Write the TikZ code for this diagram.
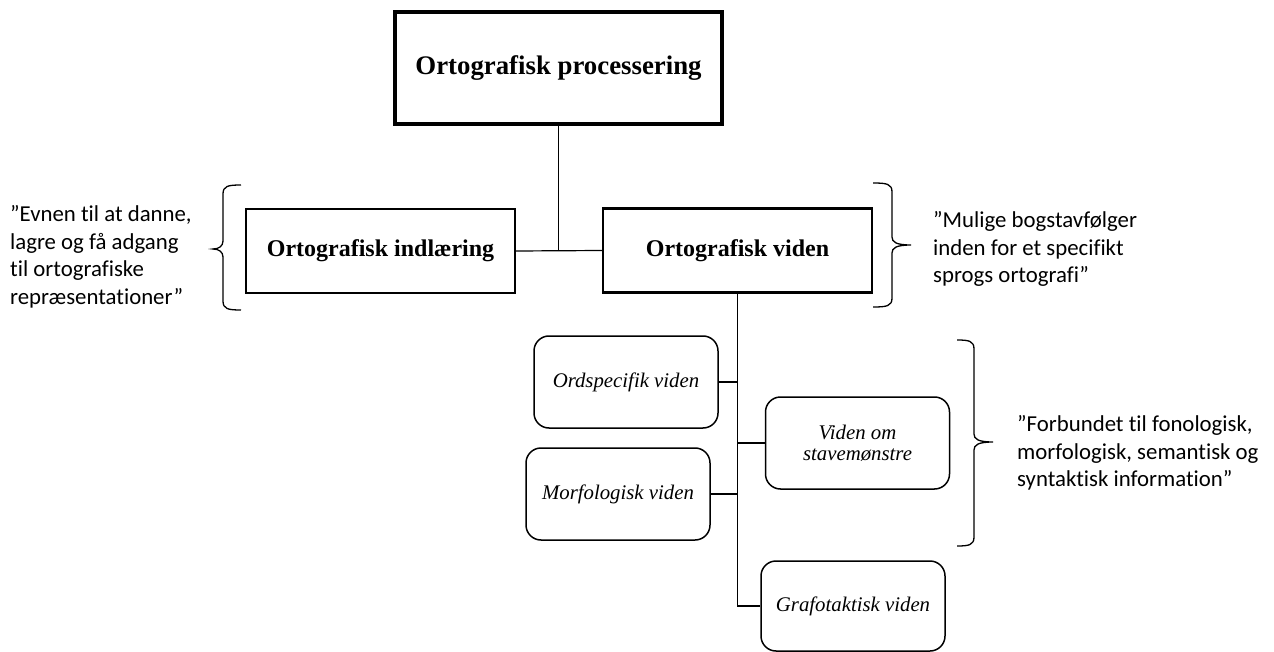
\documentclass[tikz,border=0pt]{standalone}
\usepackage{fontspec}
\setmainfont{Liberation Serif}
\newfontfamily\quotefont[Ligatures=NoCommon]{Carlito}
\begin{document}
\begin{tikzpicture}[x=1pt,y=-1pt,
  topbox/.style={draw, line width=3.2pt, minimum width=327pt, minimum height=112pt, inner sep=0pt, font=\bfseries\fontsize{26.8}{30}\selectfont},
  mainbox/.style={draw, line width=2.2pt, minimum width=269pt, minimum height=84pt, inner sep=0pt, font=\bfseries\fontsize{24}{28}\selectfont},
  subbox/.style={draw, line width=1.5pt, rounded corners=15pt, minimum width=184pt, minimum height=92pt, inner sep=0pt, align=center, font=\itshape\fontsize{20.8}{21.5}\selectfont},
  quotetext/.style={anchor=west, align=left, inner sep=0pt, font=\quotefont\fontsize{22.8}{27.5}\selectfont},
  link/.style={line width=1.2pt},
  bracepath/.style={line width=1.3pt},
]
\useasboundingbox (0,0) rectangle (1274,652);

\node[topbox] (top) at (558.5,68) {Ortografisk processering};
\node[mainbox] (indl) at (380.5,251) {Ortografisk indlæring};
\node[mainbox] (viden) at (737.5,250.5) {Ortografisk viden};

\node[subbox] (ord) at (626,382) {Ordspecifik viden};
\node[subbox] (morf) at (618,494) {Morfologisk viden};
\node[subbox] (stave) at (857.5,443) {Viden om\\stavemønstre};
\node[subbox, minimum height=90pt] (graf) at (853,606) {Grafotaktisk viden};

% connectors
\coordinate (j1) at (top.south |- indl.east);
\draw[link] (top.south) -- (j1);
\draw[link] (indl.east) -- (viden.west);
\coordinate (j2) at (viden.south |- graf.west);
\draw[link] (viden.south) -- (j2) -- (graf.west);
\draw[link] (ord.east) -- (ord.east -| viden.south);
\draw[link] (morf.east) -- (morf.east -| viden.south);
\draw[link] (stave.west) -- (stave.west -| viden.south);

% braces
\draw[bracepath] (241,185) .. controls (228,185) and (223,186) .. (223,194) -- (223,241)
  .. controls (223,246) and (219,249) .. (213,249)
  .. controls (219,249) and (223,252) .. (223,257) -- (223,301)
  .. controls (223,309) and (228,310) .. (241,310);
\draw[bracepath] (873,183) .. controls (887,183) and (892,184) .. (892,192) -- (892,237)
  .. controls (892,242) and (896,245) .. (911,245)
  .. controls (896,245) and (892,248) .. (892,253) -- (892,298)
  .. controls (892,306) and (887,307) .. (873,307);
\draw[bracepath] (957,340) .. controls (969,340) and (974,341) .. (974,349) -- (974,434)
  .. controls (974,439) and (978,442) .. (993,442)
  .. controls (978,442) and (974,445) .. (974,450) -- (974,537)
  .. controls (974,545) and (969,546) .. (957,546);

% quotes
\node[quotetext] (q1) at (10,257) {”Evnen til at danne,\\lagre og få adgang\\til ortografiske\\repræsentationer”};
\node[quotetext] (q2) at (933,249) {”Mulige bogstavfølger\\inden for et specifikt\\sprogs ortografi”};
\node[quotetext] (q3) at (1017,453) {”Forbundet til fonologisk,\\morfologisk, semantisk og\\syntaktisk information”};
\end{tikzpicture}
\end{document}
